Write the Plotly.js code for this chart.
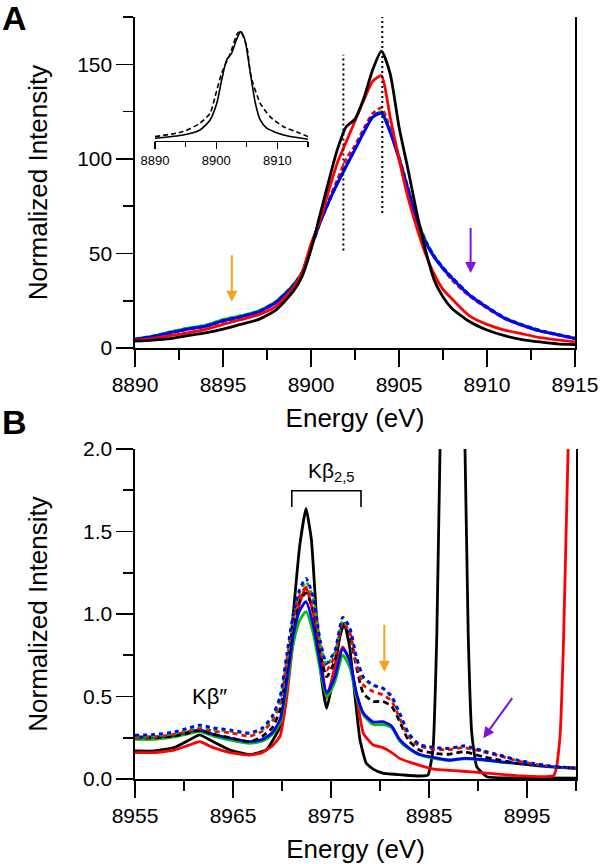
<!DOCTYPE html>
<html>
<head>
<meta charset="utf-8">
<script src="https://cdn.plot.ly/plotly-3.0.1.min.js"></script>
<style>html,body{margin:0;padding:0;background:#fff;}#chart{width:600px;height:864px;}</style>
</head>
<body>
<div id="chart"></div>
<script>
// ---------- Panel A : Kbeta main line ----------
const energyA = [8890, 8891, 8892, 8893, 8894, 8895, 8896, 8897, 8898, 8899, 8899.5, 8900, 8900.5, 8901, 8901.5, 8902, 8902.5, 8903, 8903.5, 8904, 8904.5, 8905, 8905.5, 8906, 8906.5, 8907, 8907.5, 8908, 8909, 8910, 8911, 8912, 8913, 8914, 8915];
const aBlackSolid = [3.7, 4.2, 5.0, 6.5, 8.0, 10, 12.5, 15, 20, 30, 38, 52, 70, 88, 105, 117, 121, 132, 147, 157, 145, 117, 95, 72, 52, 36, 27, 21, 14, 9.5, 6.5, 4.5, 3.2, 2.2, 1.8];
const aRedSolid = [4.2, 5.0, 6.5, 8.0, 9.8, 12.5, 15, 17.5, 22, 32, 40, 55, 67, 83, 98, 109, 120, 131, 141, 144, 122, 100, 80, 64, 50, 39, 31, 26, 17, 12.5, 9.5, 7.5, 5.5, 4.3, 3.3];
const aRedDash = [4.4, 5.8, 7.8, 9.8, 11.3, 14.0, 16.3, 18.8, 24, 33, 40, 53, 66, 78, 89, 100, 107, 116, 124, 127, 116, 101, 85, 69, 57, 48, 42, 36, 27.5, 21, 15.5, 12, 9, 7, 5];
const aGreenDash = [4.8, 6.3, 8.5, 10.5, 12.0, 15.0, 17.0, 19.5, 24.5, 33.5, 40, 53, 66, 77, 87, 96, 105, 114, 122, 125, 115, 101, 85, 69, 57, 48.5, 42.5, 37, 28, 21.5, 15.8, 12.2, 9.2, 7.2, 5.2];
const aBlueSolid = [4.5, 6.0, 8.0, 10.0, 11.5, 14.3, 16.5, 19.0, 24, 33, 40, 53, 66, 77, 87, 96, 105, 114, 122, 124, 114, 100, 84, 68, 56, 48, 42, 37, 28, 21.5, 15.7, 12, 9, 7, 5];
const aBlueDash = [4.6, 6.1, 8.1, 10.1, 11.6, 14.5, 16.6, 19.2, 24.2, 33.2, 40, 53, 66, 77, 87.5, 96.5, 105.5, 114.5, 122.5, 124.5, 114.5, 100.5, 84.5, 68.5, 56.5, 48.5, 42.5, 37.5, 28.3, 21.8, 16, 12.3, 9.3, 7.2, 5.2];

// inset (normalized)
const energyInsetSolid = [8890, 8894.6, 8897.35, 8899.0, 8900.1, 8900.9, 8901.7, 8902.5, 8903.3, 8904.0, 8904.7, 8905.5, 8906.4, 8907.2, 8908.25, 8911, 8915];
const insetSolid = [0.022, 0.052, 0.098, 0.19, 0.343, 0.557, 0.74, 0.80, 0.923, 1.0, 0.923, 0.649, 0.343, 0.19, 0.114, 0.052, 0.013];
const energyInsetDash = [8890, 8894.6, 8897.35, 8899.0, 8899.8, 8900.9, 8902.3, 8903.5, 8904.0, 8905.0, 8905.7, 8907.2, 8908.8, 8911, 8913.7, 8915];
const insetDash = [0.037, 0.083, 0.16, 0.25, 0.40, 0.62, 0.80, 0.985, 1.0, 0.862, 0.587, 0.343, 0.22, 0.128, 0.068, 0.037];

// dotted reference lines in panel A
const dottedE = [8901.84, 8904.05];
const dottedLow = [51.6, 71.4];
const dottedHigh = [155, 175];

// ---------- Panel B : valence-to-core ----------
const energyB = [8955, 8957, 8959, 8960.5, 8961.6, 8963, 8964.7, 8966.7, 8968, 8969, 8969.8, 8970.5, 8971.15, 8971.8, 8972.45, 8973.2, 8973.9, 8974.56, 8975.4, 8976.2, 8976.9, 8977.6, 8978.3, 8979.3, 8980.3, 8981.2, 8982.0, 8982.9, 8984, 8985.5, 8987, 8988.6, 8990.5, 8992.2, 8994, 8995.6, 8997.3, 9000];
const bBlueDash = [0.265, 0.27, 0.285, 0.31, 0.327, 0.31, 0.297, 0.28, 0.31, 0.38, 0.5, 0.76, 1.0, 1.15, 1.216, 1.1, 0.84, 0.70, 0.78, 0.98, 0.92, 0.74, 0.62, 0.57, 0.55, 0.50, 0.40, 0.28, 0.21, 0.19, 0.186, 0.2, 0.17, 0.145, 0.115, 0.095, 0.079, 0.065];
const bGreenDash = [0.26, 0.262, 0.275, 0.30, 0.318, 0.30, 0.29, 0.275, 0.30, 0.37, 0.48, 0.74, 0.98, 1.13, 1.195, 1.09, 0.83, 0.69, 0.77, 0.96, 0.91, 0.73, 0.61, 0.565, 0.55, 0.49, 0.39, 0.275, 0.21, 0.19, 0.185, 0.2, 0.17, 0.145, 0.115, 0.095, 0.079, 0.065];
const bRedDash = [0.25, 0.255, 0.27, 0.29, 0.307, 0.29, 0.28, 0.26, 0.29, 0.35, 0.46, 0.72, 0.97, 1.11, 1.16, 1.06, 0.80, 0.66, 0.75, 0.95, 0.89, 0.70, 0.57, 0.53, 0.51, 0.47, 0.37, 0.26, 0.20, 0.18, 0.178, 0.19, 0.165, 0.14, 0.11, 0.092, 0.077, 0.065];
const bBlackDash = [0.25, 0.25, 0.26, 0.28, 0.295, 0.27, 0.25, 0.225, 0.26, 0.31, 0.42, 0.68, 0.93, 1.08, 1.127, 1.02, 0.76, 0.62, 0.72, 0.93, 0.87, 0.68, 0.52, 0.47, 0.47, 0.44, 0.35, 0.236, 0.176, 0.156, 0.15, 0.165, 0.135, 0.115, 0.095, 0.085, 0.075, 0.065];
const bBlueSolid = [0.255, 0.255, 0.265, 0.285, 0.297, 0.27, 0.247, 0.226, 0.24, 0.28, 0.36, 0.60, 0.87, 1.02, 1.075, 0.93, 0.70, 0.52, 0.62, 0.79, 0.72, 0.52, 0.40, 0.345, 0.347, 0.32, 0.24, 0.19, 0.15, 0.13, 0.115, 0.125, 0.118, 0.105, 0.095, 0.085, 0.075, 0.065];
const bGreenSolid = [0.24, 0.24, 0.255, 0.275, 0.287, 0.26, 0.236, 0.216, 0.23, 0.27, 0.34, 0.56, 0.82, 0.96, 1.014, 0.88, 0.66, 0.50, 0.59, 0.75, 0.68, 0.50, 0.39, 0.33, 0.33, 0.31, 0.23, 0.185, 0.145, 0.125, 0.112, 0.122, 0.115, 0.103, 0.093, 0.083, 0.074, 0.065];

const energyBRed = [8955, 8957, 8959, 8960.5, 8961.6, 8963, 8964.7, 8966.7, 8968, 8969, 8969.8, 8970.5, 8971.15, 8971.8, 8972.45, 8973.2, 8973.9, 8974.56, 8975.4, 8976.2, 8976.9, 8977.6, 8978.3, 8979.3, 8980.3, 8981.2, 8982.0, 8983.4, 8985.5, 8989, 8994, 8997, 8997.7, 8998.03, 8998.37, 8998.7, 8998.95, 9000];
const bRedSolid = [0.16, 0.16, 0.175, 0.205, 0.226, 0.19, 0.16, 0.145, 0.16, 0.2, 0.26, 0.5, 0.84, 1.065, 1.165, 1.0, 0.76, 0.49, 0.68, 0.80, 0.72, 0.5, 0.277, 0.206, 0.19, 0.16, 0.125, 0.095, 0.06, 0.045, 0.02, 0.014, 0.02, 0.075, 0.256, 0.78, 1.39, 4.0];

const energyBBlack = [8955, 8957, 8959, 8960.5, 8961.6, 8963, 8964.7, 8966.7, 8968.4, 8969.8, 8970.5, 8971.15, 8971.8, 8972.45, 8973.0, 8973.5, 8974.05, 8974.56, 8975.2, 8975.9, 8976.35, 8976.9, 8977.45, 8977.96, 8978.6, 8979.3, 8980.3, 8982.4, 8984.1, 8984.9, 8985.4, 8985.8, 8986.3, 8987.4, 8988.5, 8989.0, 8989.36, 8989.87, 8990.9, 8995, 9000];
const bBlackSolid = [0.17, 0.17, 0.19, 0.235, 0.267, 0.225, 0.175, 0.148, 0.176, 0.317, 0.56, 1.0, 1.41, 1.64, 1.45, 1.0, 0.6, 0.428, 0.6, 0.862, 0.944, 0.80, 0.5, 0.236, 0.095, 0.06, 0.035, 0.024, 0.018, 0.024, 0.176, 0.88, 2.6, 5.0, 2.6, 0.88, 0.28, 0.075, 0.014, 0.006, 0.005];

// bracket over Kbeta2,5
const bracketE = [8971.0, 8971.0, 8978.06, 8978.06];
const bracketI = [1.648, 1.747, 1.747, 1.648];

// arrows [tipE, tipI, tailE, tailI]
const arrowAOrange = [8895.5, 24.5, 8895.5, 49.8];
const arrowAPurple = [8909.07, 39.6, 8909.07, 64.3];
const arrowBOrange = [8980.44, 0.65, 8980.44, 0.944];
const arrowBPurple = [8990.54, 0.247, 8993.6, 0.499];

const RED = '#ff0000', BLUE = '#0000ff', GREEN = '#00c400', BLACK = '#000000';
const ORANGE = '#f8a21c', PURPLE = '#7a16e0';
const FONT = 'Liberation Sans, Arial, Helvetica, sans-serif';
const LW = 2.8;

function tr(x, y, color, dash, xa, ya, w, smooth) {
  const line = {color: color, width: w || LW, dash: dash || 'solid'};
  if (smooth) { line.shape = 'spline'; line.smoothing = smooth; }
  return {x: x, y: y, type: 'scatter', mode: 'lines', xaxis: xa, yaxis: ya, line: line, hoverinfo: 'skip'};
}

const S = 0.6;
const traces = [
  // panel A
  tr(energyA, aGreenDash, GREEN, 'solid', 'x', 'y', null, S),
  tr(energyA, aRedDash, RED, '5px,3px', 'x', 'y', null, S),
  tr(energyA, aGreenDash, GREEN, '5px,3px', 'x', 'y', null, S),
  tr(energyA, aBlueSolid, BLUE, 'solid', 'x', 'y', null, S),
  tr(energyA, aBlueDash, BLUE, '5px,3px', 'x', 'y', null, S),
  tr(energyA, aRedSolid, RED, 'solid', 'x', 'y', null, S),
  tr(energyA, aBlackSolid, BLACK, 'solid', 'x', 'y', null, S),
  tr([dottedE[0], dottedE[0]], [dottedLow[0], dottedHigh[0]], BLACK, '2px,3px', 'x', 'y', 2),
  tr([dottedE[1], dottedE[1]], [dottedLow[1], dottedHigh[1]], BLACK, '2px,3px', 'x', 'y', 2),
  // inset
  tr(energyInsetSolid, insetSolid, BLACK, 'solid', 'x3', 'y3', 1.6, S),
  tr(energyInsetDash, insetDash, BLACK, '5px,3px', 'x3', 'y3', 1.6, S),
  // panel B
  tr(energyBBlack, bBlackSolid, BLACK, 'solid', 'x2', 'y2', null, 0.4),
  tr(energyBRed, bRedSolid, RED, 'solid', 'x2', 'y2', null, 0.4),
  tr(energyB, bGreenSolid, GREEN, 'solid', 'x2', 'y2', null, S),
  tr(energyB, bBlueSolid, BLUE, 'solid', 'x2', 'y2', null, S),
  tr(energyB, bBlackDash, BLACK, '6px,4px', 'x2', 'y2', null, S),
  tr(energyB, bRedDash, RED, '5px,4px', 'x2', 'y2', null, S),
  tr(energyB, bGreenDash, GREEN, '4px,4px', 'x2', 'y2', null, S),
  tr(energyB, bBlueDash, BLUE, '4px,4px', 'x2', 'y2', null, S),
  tr(bracketE, bracketI, BLACK, 'solid', 'x2', 'y2', 1.6)
];

const tickFont = {family: FONT, size: 21, color: '#000'};
const titleFont = {family: FONT, size: 26, color: '#000'};
const axisCommon = {showline: true, linecolor: '#000', linewidth: 1.6, ticks: 'outside', ticklen: 17,
  tickwidth: 1.6, tickcolor: '#000', showgrid: false, zeroline: false, tickfont: tickFont, automargin: false};

function arrowAnn(a, xa, ya, color) {
  return {x: a[0], y: a[1], ax: a[2], ay: a[3], xref: xa, yref: ya, axref: xa, ayref: ya,
    text: '', showarrow: true, arrowhead: 2, arrowsize: 1.1, arrowwidth: 2, arrowcolor: color};
}

const layout = {
  width: 600, height: 864,
  margin: {l: 0, r: 0, t: 0, b: 0},
  paper_bgcolor: '#fff', plot_bgcolor: 'rgba(0,0,0,0)',
  showlegend: false,
  font: {family: FONT, color: '#000'},
  xaxis: Object.assign({}, axisCommon, {domain: [0.225, 0.9583], range: [8890, 8915], anchor: 'y',
    tick0: 8890, dtick: 5, minor: {dtick: 2.5, ticks: 'outside', ticklen: 10, tickwidth: 1.6, tickcolor: '#000'},
    title: {text: 'Energy (eV)', font: titleFont, standoff: 14}}),
  yaxis: Object.assign({}, axisCommon, {domain: [0.5972, 0.9803], range: [0, 175], anchor: 'x', mirror: true,
    tick0: 0, dtick: 50, minor: {dtick: 25, ticks: 'outside', ticklen: 10, tickwidth: 1.6, tickcolor: '#000'},
    title: {text: 'Normalized Intensity', font: titleFont, standoff: 22}}),
  xaxis3: {domain: [0.2583, 0.5133], range: [8890, 8915], anchor: 'y3', showline: true, linecolor: '#000', linewidth: 1.3,
    ticks: 'outside', ticklen: 7, tickwidth: 1.3, tickcolor: '#000', tick0: 8890, dtick: 10,
    minor: {dtick: 5, ticks: 'outside', ticklen: 5, tickwidth: 1.3, tickcolor: '#000'},
    showgrid: false, zeroline: false, tickfont: {family: FONT, size: 13, color: '#000'}},
  yaxis3: {domain: [0.8372, 0.9697], range: [0, 1.05], anchor: 'x3', visible: false, showgrid: false, zeroline: false},
  xaxis2: Object.assign({}, axisCommon, {domain: [0.225, 0.96], range: [8955, 9000], anchor: 'y2',
    tick0: 8955, dtick: 10, minor: {dtick: 5, ticks: 'outside', ticklen: 10, tickwidth: 1.6, tickcolor: '#000'},
    title: {text: 'Energy (eV)', font: titleFont, standoff: 14}}),
  yaxis2: Object.assign({}, axisCommon, {domain: [0.0984, 0.4803], range: [0, 2], anchor: 'x2', mirror: true,
    tick0: 0, dtick: 0.5, tickformat: '.1f', minor: {dtick: 0.25, ticks: 'outside', ticklen: 10, tickwidth: 1.6, tickcolor: '#000'},
    title: {text: 'Normalized Intensity', font: titleFont, standoff: 28}}),
  annotations: [
    {text: '<b>A</b>', xref: 'paper', yref: 'paper', x: 0.0, y: 1 - 18 / 864, xanchor: 'left', yanchor: 'middle',
     showarrow: false, font: {family: FONT, size: 34, color: '#000'}},
    {text: '<b>B</b>', xref: 'paper', yref: 'paper', x: 0.0, y: 1 - 422 / 864, xanchor: 'left', yanchor: 'middle',
     showarrow: false, font: {family: FONT, size: 34, color: '#000'}},
    {text: 'Kβ<sub>2,5</sub>', xref: 'x2', yref: 'y2', x: 8975.0, y: 1.86, xanchor: 'center', yanchor: 'middle',
     showarrow: false, font: {family: FONT, size: 21, color: '#000'}},
    {text: 'Kβ″', xref: 'x2', yref: 'y2', x: 8962.6, y: 0.50, xanchor: 'center', yanchor: 'middle',
     showarrow: false, font: {family: FONT, size: 22, color: '#000'}},
    arrowAnn(arrowAOrange, 'x', 'y', ORANGE),
    arrowAnn(arrowAPurple, 'x', 'y', PURPLE),
    arrowAnn(arrowBOrange, 'x2', 'y2', ORANGE),
    arrowAnn(arrowBPurple, 'x2', 'y2', PURPLE)
  ]
};

Plotly.newPlot('chart', traces, layout, {staticPlot: true, displayModeBar: false});
</script>
</body>
</html>
